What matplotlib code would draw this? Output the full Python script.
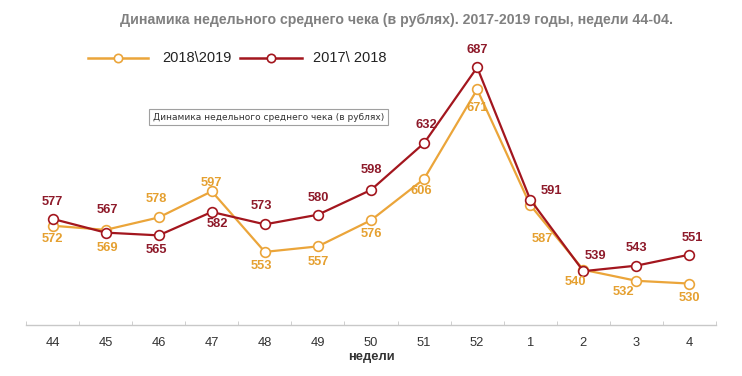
import matplotlib
matplotlib.use("Agg")
import matplotlib.pyplot as plt
from matplotlib.lines import Line2D
import numpy as np

weeks = ["44", "45", "46", "47", "48", "49", "50", "51", "52", "1", "2", "3", "4"]
s_2018_2019 = [572, 569, 578, 597, 553, 557, 576, 606, 671, 587, 540, 532, 530]
s_2017_2018 = [577, 567, 565, 582, 573, 580, 598, 632, 687, 591, 539, 543, 551]
series_names = ["2018\\2019", "2017\\ 2018"]
title = "Динамика недельного среднего чека (в рублях). 2017-2019 годы, недели 44-04."
tooltip = "Динамика недельного среднего чека (в рублях)"
xlabel = "недели"

# label offsets (pixels)
off_orange = [(0, -13), (2, -18), (-2, 18), (0, 8), (-3, -14), (0, -16), (0, -14),
              (-3, -12), (0, -19), (12, -34), (-8, -12), (-13, -11), (0, -14)]
off_red = [(0, 17), (2, 23), (-2, -15), (6, -12), (-3, 18), (0, 17), (0, 20),
           (2, 18), (0, 17), (21, 9), (12, 15), (0, 18), (3, 17)]

C_OR = "#EBA53A"
C_OR_T = "#E5A030"
C_RD = "#A3161E"
C_RD_T = "#8E1A2A"

plt.rcParams['font.family'] = ['Liberation Sans', 'DejaVu Sans']
fig = plt.figure(figsize=(7.42, 3.76), dpi=100)
fig.patch.set_facecolor("white")
ax = fig.add_axes([0.035, 0.136, 0.93, 0.758])
x = np.arange(len(weeks))

ax.plot(x, s_2018_2019, color=C_OR, lw=1.6, marker="o", ms=7, mfc="white",
        mec=C_OR, mew=1.2, zorder=3)
ax.plot(x, s_2017_2018, color=C_RD, lw=1.6, marker="o", ms=7, mfc="white",
        mec=C_RD, mew=1.2, zorder=4)

for i in range(len(weeks)):
    ax.annotate(str(s_2018_2019[i]), (x[i], s_2018_2019[i]), xytext=off_orange[i],
                textcoords="offset pixels", ha="center", va="center",
                fontsize=9.3, fontweight="bold", color=C_OR_T, zorder=5)
    ax.annotate(str(s_2017_2018[i]), (x[i], s_2017_2018[i]), xytext=off_red[i],
                textcoords="offset pixels", ha="center", va="center",
                fontsize=9.3, fontweight="bold", color=C_RD_T, zorder=5)

ax.set_xlim(-0.5, len(weeks) - 0.5)
ax.set_ylim(500, 707)
for s in ["top", "left", "right"]:
    ax.spines[s].set_visible(False)
ax.spines["bottom"].set_color("#c8c8c8")
ax.spines["bottom"].set_linewidth(1)
ax.set_yticks([])
ax.set_xticks(x)
ax.set_xticklabels(weeks, fontsize=9.3, color="#333333")
ax.tick_params(axis="x", which="major", length=0, pad=9)
ax.set_xticks(np.arange(-0.5, len(weeks)), minor=True)
ax.tick_params(axis="x", which="minor", length=3, direction="in", color="#c8c8c8")
ax.set_xlabel(xlabel, fontsize=9.3, fontweight="bold", color="#333333", labelpad=1)
ax.patch.set_alpha(0)

fig.text(396 / 742, 1 - 20 / 376, title, ha="center", va="center", fontsize=10.2,
         fontweight="bold", color="#808080")

# legend
ly = 1 - 58 / 376
for (x0, x1, col, name, tx) in [(88, 148, C_OR, series_names[0], 162),
                                (240, 302, C_RD, series_names[1], 313)]:
    fig.add_artist(Line2D([x0 / 742, (x0 + x1) / 2 / 742, x1 / 742], [ly, ly, ly],
                          color=col, lw=1.8, marker="o", ms=6, mfc="white", mec=col,
                          mew=1.2, markevery=[1], transform=fig.transFigure))
    fig.text(tx / 742, ly, name, ha="left", va="center", fontsize=10.5, color="#222222")

fig.text(153 / 742, 1 - 117 / 376, tooltip, ha="left", va="center", fontsize=6.5,
         color="#333333", family=["DejaVu Sans"],
         bbox=dict(boxstyle="square,pad=0.4", fc="white", ec="#a0a0a0", lw=0.8))

fig.savefig("out.png", dpi=100, facecolor="white")
